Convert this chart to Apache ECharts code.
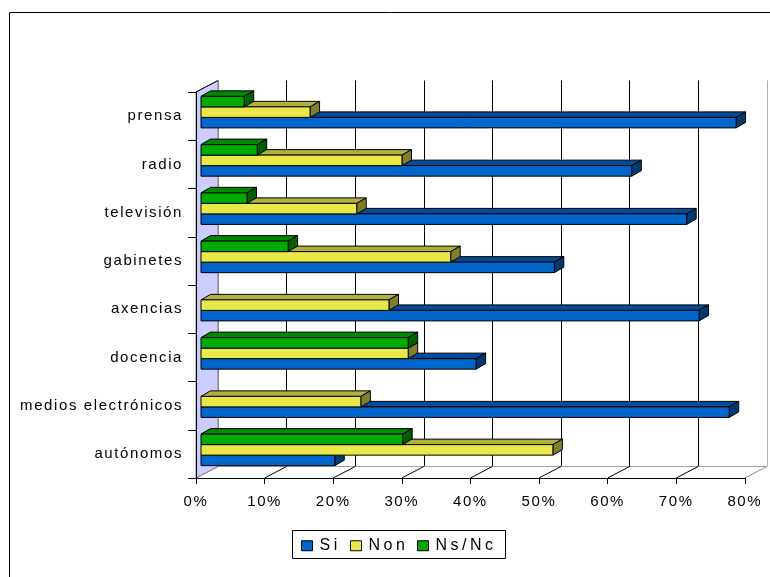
<!DOCTYPE html>
<html>
<head>
<meta charset="utf-8">
<script src="https://cdn.jsdelivr.net/npm/echarts/dist/echarts.min.js"></script>
<style>
html,body{margin:0;padding:0;background:#fff;}
#chart{width:770px;height:577px;}
</style>
</head>
<body>
<div id="chart"></div>
<script>
// ---- data ----
const categories = ['prensa', 'radio', 'televisión', 'gabinetes', 'axencias', 'docencia', 'medios electrónicos', 'autónomos'];
const siValues   = [78.0, 62.8, 70.8, 51.5, 72.6, 40.1, 77.0, 19.5];
const nonValues  = [15.9, 29.3, 22.7, 36.4, 27.4, 30.2, 23.3, 51.3];
const nsncValues = [6.3, 8.2, 6.7, 12.7, 0, 30.2, 0, 29.4];
const seriesNames = ['Si', 'Non', 'Ns/Nc'];
const xTicks = [0, 10, 20, 30, 40, 50, 60, 70, 80];

// ---- letter spacing like the stretched original text ----
(function () {
  const proto = CanvasRenderingContext2D.prototype;
  const desc = Object.getOwnPropertyDescriptor(proto, 'font');
  if (!desc || !('letterSpacing' in proto)) return;
  Object.defineProperty(proto, 'font', {
    configurable: true,
    get() { return desc.get.call(this); },
    set(v) {
      desc.set.call(this, v);
      const s = String(v);
      this.letterSpacing = /\b16px/.test(s) ? '3.5px' : (/\b15px/.test(s) ? '1.6px' : '0px');
    }
  });
})();

const FONT = 'Arial, "Liberation Sans", sans-serif';
const DX = 9.5, DY = -5.5;       // 3D bar depth
const WX = 22, WY = -11.5;       // wall / floor depth
const palettes = [
  { front: '#0066CC', top: '#004C99', side: '#003A73' },
  { front: '#E8E84A', top: '#B0B040', side: '#7F7F2A' },
  { front: '#00AA00', top: '#008800', side: '#006000' }
];
const valueLists = [siValues, nonValues, nsncValues];

function barRenderer(si) {
  const pal = palettes[si];
  return function (params, api) {
    const val = api.value(0), cat = api.value(1);
    if (!val) return null;
    const p0 = api.coord([0, cat]);
    const p1 = api.coord([val, cat]);
    const bandH = api.size([0, 1])[1];
    const h = bandH * 0.218;
    const top = p0[1] + (0.5 - si) * h;
    const x0 = p0[0], x1 = p1[0];
    const st = { stroke: '#000', lineWidth: 1 };
    return {
      type: 'group',
      children: [
        { type: 'polygon', shape: { points: [[x0, top], [x1, top], [x1 + DX, top + DY], [x0 + DX, top + DY]] },
          style: Object.assign({ fill: pal.top }, st) },
        { type: 'polygon', shape: { points: [[x1, top], [x1 + DX, top + DY], [x1 + DX, top + DY + h], [x1, top + h]] },
          style: Object.assign({ fill: pal.side }, st) },
        { type: 'rect', shape: { x: x0, y: top, width: x1 - x0, height: h },
          style: Object.assign({ fill: pal.front }, st) }
      ]
    };
  };
}

function floorRenderer(params, api) {
  const v = api.value(0);
  const cs = params.coordSys;
  const yb = cs.y + cs.height;
  const x = api.coord([v, 0])[0];
  const children = [];
  if (params.dataIndex === 0) {
    children.push({ type: 'polygon',
      shape: { points: [[cs.x, cs.y], [cs.x + WX, cs.y + WY], [cs.x + WX, yb + WY], [cs.x, yb]] },
      style: { fill: '#CCCCFF', stroke: '#808080', lineWidth: 1 } });
    children.push({ type: 'line',
      shape: { x1: cs.x, y1: cs.y, x2: cs.x + WX, y2: cs.y + WY },
      style: { stroke: '#000', lineWidth: 1 } });
    children.push({ type: 'line',
      shape: { x1: cs.x + WX, y1: yb + WY, x2: cs.x + cs.width + WX, y2: yb + WY },
      style: { stroke: '#A0A0A0', lineWidth: 1 } });
  }
  const edge = (v === xTicks[0] || v === xTicks[xTicks.length - 1]);
  children.push({ type: 'line',
    shape: { x1: x, y1: yb, x2: x + WX, y2: yb + WY },
    style: { stroke: edge ? '#909090' : '#000', lineWidth: 1 } });
  return { type: 'group', children: children };
}

const splitColors = xTicks.map((t, i) => (i === 0 ? '#909090' : (i === xTicks.length - 1 ? '#B0B0B0' : '#000')));

const barSeries = seriesNames.map((name, si) => ({
  name: name,
  type: 'custom',
  xAxisIndex: 2, yAxisIndex: 2,
  z: 5,
  itemStyle: { color: palettes[si].front },
  encode: { x: 0, y: 1 },
  renderItem: barRenderer(si),
  data: valueLists[si].map((v, i) => [v, i])
}));

const legendLefts = [301, 350, 417];

const option = {
  animation: false,
  backgroundColor: '#fff',
  grid: [
    { left: 196, top: 92, width: 548.8, height: 386 },      // front
    { left: 218, top: 80.5, width: 548.8, height: 386 },    // back
    { left: 201, top: 88, width: 548.8, height: 386 }       // bars
  ],
  xAxis: [
    { gridIndex: 0, type: 'value', min: 0, max: 80, interval: 10, z: 6,
      axisLine: { show: true, lineStyle: { color: '#000', width: 1 } },
      axisTick: { show: true, length: 6, lineStyle: { color: '#000' } },
      splitLine: { show: false },
      axisLabel: { formatter: '{value}%', color: '#000', fontSize: 15, fontFamily: FONT, margin: 16 } },
    { gridIndex: 1, type: 'value', min: 0, max: 80, interval: 10,
      axisLine: { show: false }, axisTick: { show: false }, axisLabel: { show: false },
      splitLine: { show: true, showMinLine: true, showMaxLine: true, lineStyle: { color: splitColors, width: 1 } } },
    { gridIndex: 2, type: 'value', min: 0, max: 80, interval: 10, show: false }
  ],
  yAxis: [
    { gridIndex: 0, type: 'category', data: categories, inverse: true, z: 6,
      axisLine: { show: true, lineStyle: { color: '#000', width: 1 } },
      axisTick: { show: true, length: 8, lineStyle: { color: '#000' } },
      axisLabel: { color: '#000', fontSize: 15, fontFamily: FONT, margin: 13 } },
    { gridIndex: 1, type: 'category', data: categories, inverse: true, show: false },
    { gridIndex: 2, type: 'category', data: categories, inverse: true, show: false }
  ],
  legend: seriesNames.map((n, i) => ({
    data: [n], left: legendLefts[i], top: 536, padding: 0,
    itemWidth: 11, itemHeight: 10, icon: 'rect',
    itemStyle: { borderColor: '#000', borderWidth: 1 },
    textStyle: { color: '#000', fontSize: 16, fontFamily: FONT, padding: [0, 0, 0, 2] },
    selectedMode: false
  })),
  graphic: [
    { type: 'rect', silent: true, z: 0, shape: { x: 9.5, y: 12.5, width: 800, height: 600 },
      style: { fill: 'none', stroke: '#000', lineWidth: 1 } },
    { type: 'rect', silent: true, z: 0, shape: { x: 292.5, y: 530.5, width: 213, height: 28 },
      style: { fill: 'none', stroke: '#000', lineWidth: 1 } }
  ],
  series: [
    { name: 'floor', type: 'custom', xAxisIndex: 0, yAxisIndex: 0, z: 1, silent: true,
      renderItem: floorRenderer, encode: { x: 0 }, data: xTicks.map(t => [t]) }
  ].concat(barSeries)
};

const chart = echarts.init(document.getElementById('chart'), null, { renderer: 'canvas' });
chart.setOption(option);
</script>
</body>
</html>
